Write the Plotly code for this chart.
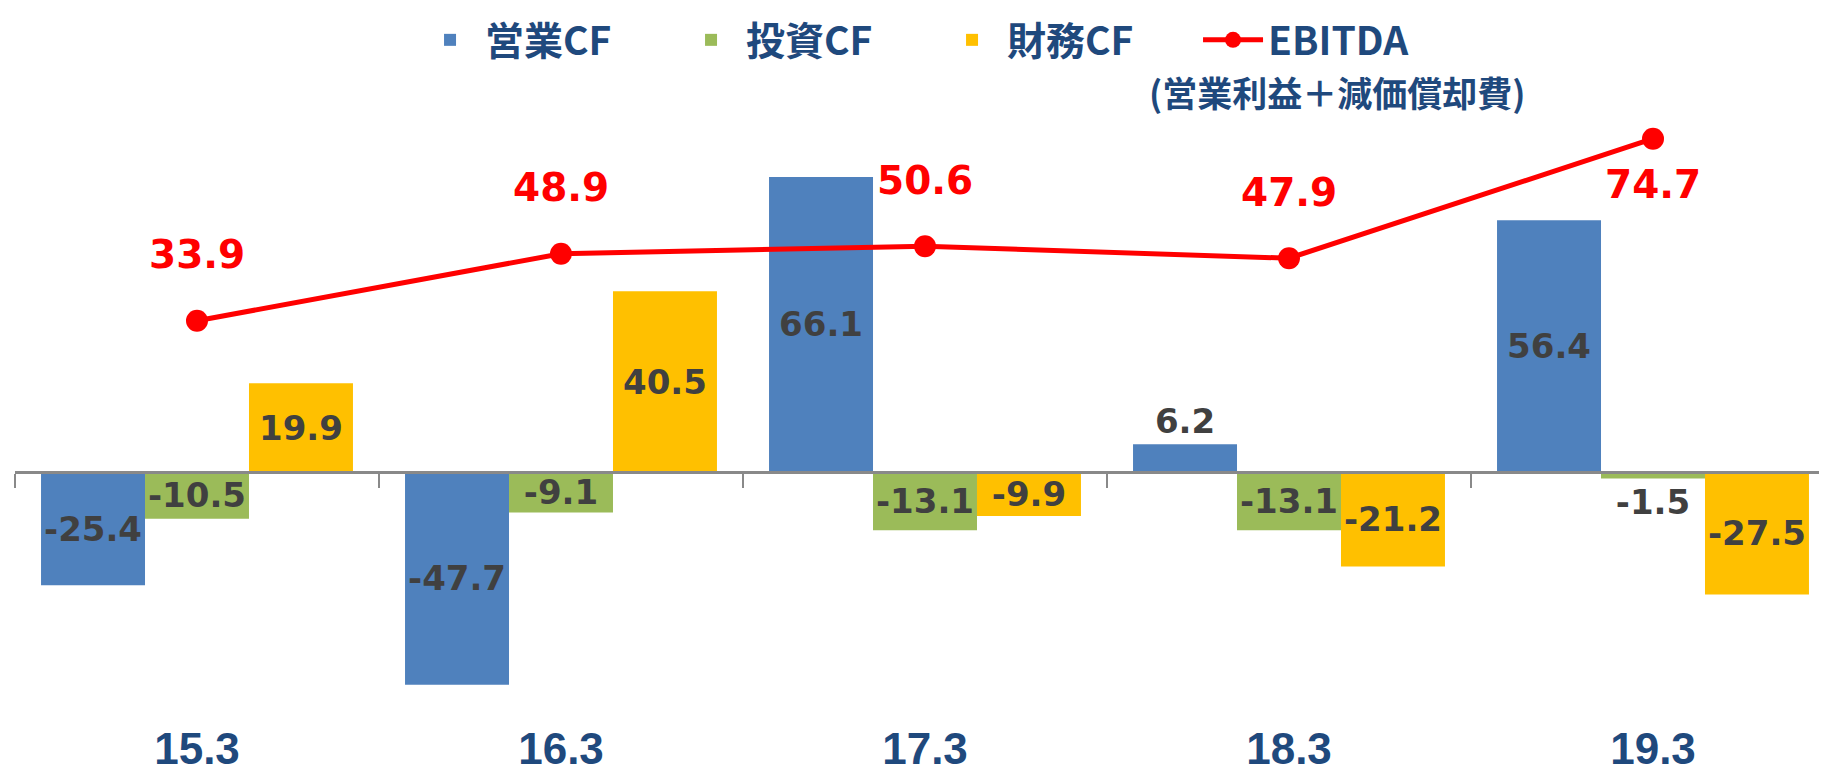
"""Cash flow bars with EBITDA line, per fiscal period."""

from __future__ import annotations

import plotly.graph_objects as go

PERIODS = ["15.3", "16.3", "17.3", "18.3", "19.3"]
OPERATING_CF = [-25.4, -47.7, 66.1, 6.2, 56.4]
INVESTING_CF = [-10.5, -9.1, -13.1, -13.1, -1.5]
FINANCING_CF = [19.9, 40.5, -9.9, -21.2, -27.5]
EBITDA = [33.9, 48.9, 50.6, 47.9, 74.7]

NAVY = "#1F497D"
LABEL_GREY = "#404040"
AXIS_GREY = "#898989"
RED = "#FF0000"
NUMBER_FONT = "DejaVu Sans"
PERIOD_FONT = "Liberation Sans, Arial, sans-serif"
JP_FONT = "Noto Sans CJK JP"

Y_RANGE = [-55.4, 104.0]
X_RANGE = [-0.5, 4.5]
# label offsets (px) for the EBITDA values: above the point, last one below
EBITDA_LABEL_SHIFT = [66, 66, 66, 66, -46]


def bar_trace(name: str, values: list[float], color: str, positions: list[str]) -> go.Bar:
    return go.Bar(
        x=PERIODS,
        y=values,
        name=name,
        marker={"color": color, "line": {"width": 0}},
        text=[f"{v:.1f}" for v in values],
        textposition=positions,
        textangle=0,
        insidetextanchor="middle",
        constraintext="none",
        textfont={"family": NUMBER_FONT, "size": 34, "color": LABEL_GREY, "weight": "bold"},
        cliponaxis=False,
        hovertemplate="%{x}<br>" + name + ": %{y:.1f}<extra></extra>",
    )


def build_figure() -> go.Figure:
    fig = go.Figure()
    fig.add_trace(bar_trace("営業CF", OPERATING_CF, "#4F81BD", ["inside", "inside", "inside", "outside", "inside"]))
    fig.add_trace(bar_trace("投資CF", INVESTING_CF, "#9BBB59", ["inside", "inside", "inside", "inside", "outside"]))
    fig.add_trace(bar_trace("財務CF", FINANCING_CF, "#FFC000", ["inside"] * 5))
    fig.add_trace(
        go.Scatter(
            x=PERIODS,
            y=EBITDA,
            xaxis="x2",
            name="EBITDA",
            mode="lines+markers",
            line={"color": RED, "width": 5},
            marker={"color": RED, "size": 22},
            hovertemplate="%{x}<br>EBITDA: %{y:.1f}<extra></extra>",
        )
    )

    # category axis: annotations placed by category index
    for idx, (value, shift) in enumerate(zip(EBITDA, EBITDA_LABEL_SHIFT)):
        fig.add_annotation(
            x=idx,
            y=value,
            xref="x",
            yref="y",
            text=f"{value:.1f}",
            showarrow=False,
            yshift=shift,
            xanchor="center",
            yanchor="middle",
            font={"family": NUMBER_FONT, "size": 39, "color": RED, "weight": "bold"},
        )
    fig.add_annotation(
        x=0.7264,
        y=0.882,
        xref="paper",
        yref="paper",
        xanchor="center",
        yanchor="middle",
        text="(営業利益＋減価償却費)",
        showarrow=False,
        font={"family": JP_FONT, "size": 35, "color": NAVY, "weight": "bold"},
    )

    zero_pos = -Y_RANGE[0] / (Y_RANGE[1] - Y_RANGE[0])
    fig.update_layout(
        width=1827,
        height=771,
        margin={"l": 7, "r": 0, "t": 0, "b": 60, "pad": 0, "autoexpand": False},
        barmode="group",
        bargap=0.143,
        bargroupgap=0,
        paper_bgcolor="white",
        plot_bgcolor="white",
        showlegend=True,
        legend={
            "orientation": "h",
            "x": 0.2198,
            "y": 1,
            "xanchor": "left",
            "yanchor": "top",
            "bgcolor": "rgba(0,0,0,0)",
            "itemwidth": 60,
            "entrywidth": 186,
            "entrywidthmode": "pixels",
            "font": {"family": JP_FONT, "size": 39, "color": NAVY, "weight": "bold"},
        },
        xaxis={
            "type": "category",
            "range": X_RANGE,
            "automargin": False,
            "showline": False,
            "showgrid": False,
            "ticks": "",
            "ticklabelstandoff": 0,
            "tickfont": {"family": PERIOD_FONT, "size": 44, "color": NAVY, "weight": "bold"},
        },
        xaxis2={
            "type": "category",
            "overlaying": "x",
            "anchor": "free",
            "position": zero_pos,
            "range": X_RANGE,
            "automargin": False,
            "showline": True,
            "linecolor": AXIS_GREY,
            "linewidth": 3,
            "ticks": "outside",
            "tickson": "boundaries",
            "ticklen": 14,
            "tickwidth": 2,
            "tickcolor": AXIS_GREY,
            "showticklabels": False,
            "showgrid": False,
        },
        yaxis={"range": Y_RANGE, "visible": False, "showgrid": False, "zeroline": False, "automargin": False},
    )
    return fig


fig = build_figure()
fig.write_html("out.html")
